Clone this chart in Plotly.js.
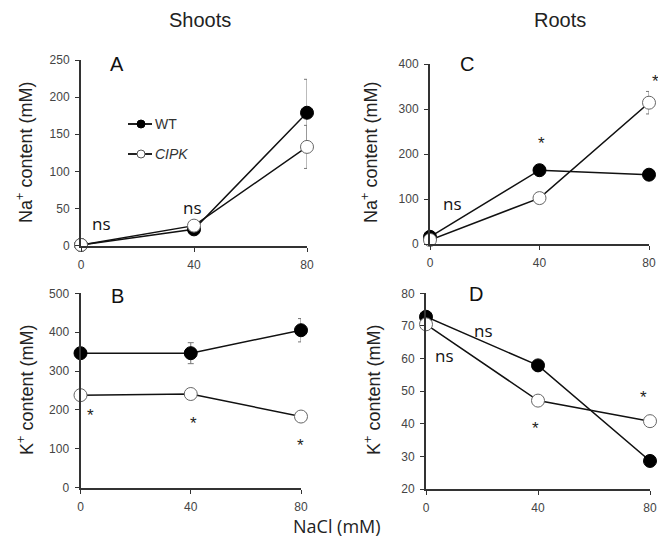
<!DOCTYPE html>
<html>
<head>
<meta charset="utf-8">
<script src="https://cdn.plot.ly/plotly-3.0.1.min.js"></script>
<style>html,body{margin:0;padding:0;background:#fff}#chart{width:658px;height:548px}</style>
</head>
<body>
<div id="chart"></div>
<script>
// NaCl treatment (mM)
const nacl = [0, 40, 80];
const xTicks = [0, 40, 80];

// Panel A: shoots Na+ (mM)
const shootNaWT = [1, 22, 179];
const shootNaWTErr = [0, 0, 45];
const shootNaCIPK = [1, 27, 133];
const shootNaCIPKErr = [0, 0, 29];

// Panel B: shoots K+ (mM)
const shootKWT = [346, 346, 405];
const shootKWTErr = [0, 27, 30];
const shootKCIPK = [238, 241, 183];

// Panel C: roots Na+ (mM)
const rootNaWT = [16, 164, 154];
const rootNaCIPK = [9, 102, 314];
const rootNaCIPKErr = [0, 0, 25];

// Panel D: roots K+ (mM)
const rootKWT = [72.8, 57.9, 28.6];
const rootKCIPK = [70.5, 47.1, 40.8];

const seriesNames = ['WT', 'CIPK'];

function wt(x, y, err, xa, ya) {
  return {x: x, y: y, xaxis: xa, yaxis: ya, type: 'scatter', mode: 'lines+markers',
    name: seriesNames[0], showlegend: false, cliponaxis: false,
    line: {color: '#111', width: 1.5},
    marker: {symbol: 'circle', size: 13, color: '#000', line: {color: '#000', width: 1}},
    error_y: err ? {type: 'data', array: err, visible: true, color: '#777', thickness: 1, width: 3} : undefined};
}
function cipk(x, y, err, xa, ya) {
  return {x: x, y: y, xaxis: xa, yaxis: ya, type: 'scatter', mode: 'lines+markers',
    name: seriesNames[1], showlegend: false, cliponaxis: false,
    line: {color: '#111', width: 1.5},
    marker: {symbol: 'circle', size: 13, color: '#fff', line: {color: '#666', width: 1}},
    error_y: err ? {type: 'data', array: err, visible: true, color: '#777', thickness: 1, width: 3} : undefined};
}

const data = [
  wt(nacl, shootNaWT, shootNaWTErr, 'x', 'y'),
  cipk(nacl, shootNaCIPK, shootNaCIPKErr, 'x', 'y'),
  wt(nacl, shootKWT, shootKWTErr, 'x3', 'y3'),
  cipk(nacl, shootKCIPK, null, 'x3', 'y3'),
  wt(nacl, rootNaWT, null, 'x2', 'y2'),
  cipk(nacl, rootNaCIPK, rootNaCIPKErr, 'x2', 'y2'),
  wt(nacl, rootKWT, null, 'x4', 'y4'),
  cipk(nacl, rootKCIPK, null, 'x4', 'y4')
];

const W = 658, H = 548;
function px(a, b) { return [a / W, b / W]; }
function py(bottom, top) { return [1 - bottom / H, 1 - top / H]; }

const tickFont = {family: 'Liberation Sans, Arial, sans-serif', size: 12, color: '#444'};
function xax(dom, anchor) {
  return {domain: dom, anchor: anchor, range: [0, 80], tickvals: xTicks, ticktext: xTicks.map(String),
    showline: true, linecolor: '#333', linewidth: 2, ticks: 'outside', ticklen: 4, tickcolor: '#333',
    showgrid: false, zeroline: false, tickfont: tickFont, ticklabelstandoff: 3, fixedrange: true};
}
function yax(dom, anchor, range, dtick) {
  return {domain: dom, anchor: anchor, range: range, dtick: dtick, tick0: 0,
    showline: true, linecolor: '#333', linewidth: 2, ticks: 'outside', ticklen: 4, tickcolor: '#333',
    showgrid: false, zeroline: false, tickfont: tickFont, ticklabelstandoff: 3, fixedrange: true};
}

const annFont = {family: 'Open Sans, Liberation Sans, sans-serif', size: 17, color: '#111'};
const letterFont = {family: 'Liberation Sans, Arial, sans-serif', size: 20, color: '#111'};
const titleFont = {family: 'Liberation Sans, Arial, sans-serif', size: 20, color: '#222'};
const axTitleFont = {family: 'Liberation Sans, Arial, sans-serif', size: 18, color: '#222'};
const starFont = {family: 'Liberation Sans, Arial, sans-serif', size: 17, color: '#222'};
const legFont = {family: 'Liberation Sans, Arial, sans-serif', size: 14, color: '#333'};

function pa(x, y, text, font, extra) {
  return Object.assign({xref: 'paper', yref: 'paper', x: x / W, y: 1 - y / H, text: text,
    showarrow: false, font: font, xanchor: 'center', yanchor: 'middle'}, extra || {});
}

const annotations = [
  pa(200, 20, 'Shoots', titleFont),
  pa(560, 20, 'Roots', titleFont),
  pa(337, 526, 'NaCl (mM)', {family: 'Open Sans, Liberation Sans, sans-serif', size: 18, color: '#222'}),
  pa(25, 153, 'Na<sup>+</sup> content (mM)', axTitleFont, {textangle: -90}),
  pa(25, 390, 'K<sup>+</sup> content (mM)', axTitleFont, {textangle: -90}),
  pa(370, 153, 'Na<sup>+</sup> content (mM)', axTitleFont, {textangle: -90}),
  pa(372, 390, 'K<sup>+</sup> content (mM)', axTitleFont, {textangle: -90}),
  pa(117, 64, 'A', letterFont),
  pa(117, 296, 'B', letterFont),
  pa(467, 64, 'C', letterFont),
  pa(476, 294, 'D', letterFont),
  pa(101, 223, 'ns', annFont),
  pa(192, 207, 'ns', annFont),
  pa(452, 203, 'ns', annFont),
  pa(483, 330, 'ns', annFont),
  pa(444, 355, 'ns', annFont),
  pa(541, 143, '*', starFont),
  pa(655, 81, '*', starFont),
  pa(90, 415, '*', starFont),
  pa(193, 423, '*', starFont),
  pa(300, 445, '*', starFont),
  pa(535, 428, '*', starFont),
  pa(643, 398, '*', starFont),
  // legend text
  pa(153, 124, seriesNames[0], legFont, {xanchor: 'left'}),
  pa(153, 154, '<i>' + seriesNames[1] + '</i>', legFont, {xanchor: 'left'})
];

function circ(cx, cy, r, fill, lc) {
  return {type: 'circle', xref: 'paper', yref: 'paper', x0: (cx - r) / W, x1: (cx + r) / W,
    y0: 1 - (cy + r) / H, y1: 1 - (cy - r) / H, fillcolor: fill, line: {color: lc, width: 1}};
}
function seg(x0, x1, y) {
  return {type: 'line', xref: 'paper', yref: 'paper', x0: x0 / W, x1: x1 / W, y0: 1 - y / H, y1: 1 - y / H,
    line: {color: '#222', width: 2}};
}
const shapes = [
  seg(128, 152, 124), circ(141, 124, 4, '#000', '#000'),
  seg(128, 152, 154), circ(141, 154, 4, '#fff', '#555')
];

const layout = {
  width: W, height: H,
  margin: {l: 0, r: 0, t: 0, b: 0},
  paper_bgcolor: '#fff', plot_bgcolor: 'rgba(0,0,0,0)',
  showlegend: false,
  xaxis: xax(px(81, 307), 'y'),
  yaxis: yax(py(245.7, 60), 'x', [0, 250], 50),
  xaxis2: xax(px(430, 649), 'y2'),
  yaxis2: yax(py(244, 64), 'x2', [0, 400], 100),
  xaxis3: xax(px(80.5, 301), 'y3'),
  yaxis3: yax(py(487.7, 293.3), 'x3', [0, 500], 100),
  xaxis4: xax(px(426, 650), 'y4'),
  yaxis4: yax(py(489, 293.3), 'x4', [20, 80], 10),
  annotations: annotations,
  shapes: shapes
};

Plotly.newPlot('chart', data, layout, {displayModeBar: false, staticPlot: true});
</script>
</body>
</html>
